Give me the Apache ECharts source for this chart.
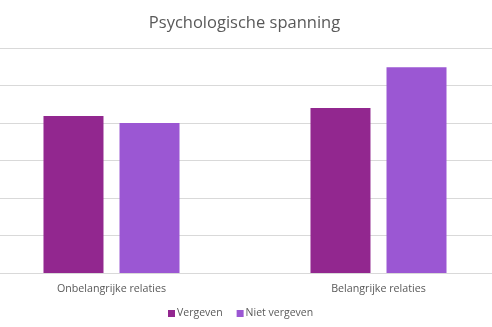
<!DOCTYPE html>
<html><head><meta charset="utf-8">
<script src="https://cdn.jsdelivr.net/npm/echarts@6/dist/echarts.min.js"></script>
<style>html,body{margin:0;padding:0;background:#fff;overflow:hidden;width:492px;height:327px;}#c{position:absolute;left:-22px;top:0;width:534px;height:327px;}</style>
</head><body><div id="c"></div>
<script>
const categories = ['Onbelangrijke relaties', 'Belangrijke relaties'];
const seriesNames = ['Vergeven', 'Niet vergeven'];
const vergeven = [4.19, 4.4];
const nietVergeven = [4.0, 5.49];
const colors = ['#92278F', '#9B57D3'];
const font = 'Open Sans';
const chart = echarts.init(document.getElementById('c'), null, {renderer: 'canvas'});
chart.setOption({
  animation: false,
  color: colors,
  title: {
    text: 'Psychologische spanning',
    left: 261.5, top: 10, textAlign: 'center',
    textStyle: {fontFamily: font, fontSize: 16.5, fontWeight: 'normal', color: '#595959'}
  },
  legend: {
    data: seriesNames,
    bottom: 3, left: 185,
    itemWidth: 7, itemHeight: 7, itemGap: 14,
    icon: 'rect',
    textStyle: {fontFamily: font, fontSize: 10.5, color: '#595959', padding: [0,0,0,-3]}
  },
  grid: {left: 0, right: 0, top: 48, bottom: 54, containLabel: false},
  xAxis: {
    type: 'category', data: categories,
    axisLine: {lineStyle: {color: '#d9d9d9', width: 1}},
    axisTick: {show: false},
    axisLabel: {fontFamily: font, fontSize: 10.7, color: '#595959', margin: 10}
  },
  yAxis: {
    type: 'value', min: 0, max: 6, interval: 1,
    axisLabel: {show: false}, axisLine: {show: false}, axisTick: {show: false},
    splitLine: {lineStyle: {color: '#d9d9d9', width: 1}}
  },
  series: [
    {name: seriesNames[0], type: 'bar', data: vergeven, barWidth: 60, barGap: '26.7%'},
    {name: seriesNames[1], type: 'bar', data: nietVergeven, barWidth: 60, barGap: '26.7%'}
  ]
});
</script></body></html>
